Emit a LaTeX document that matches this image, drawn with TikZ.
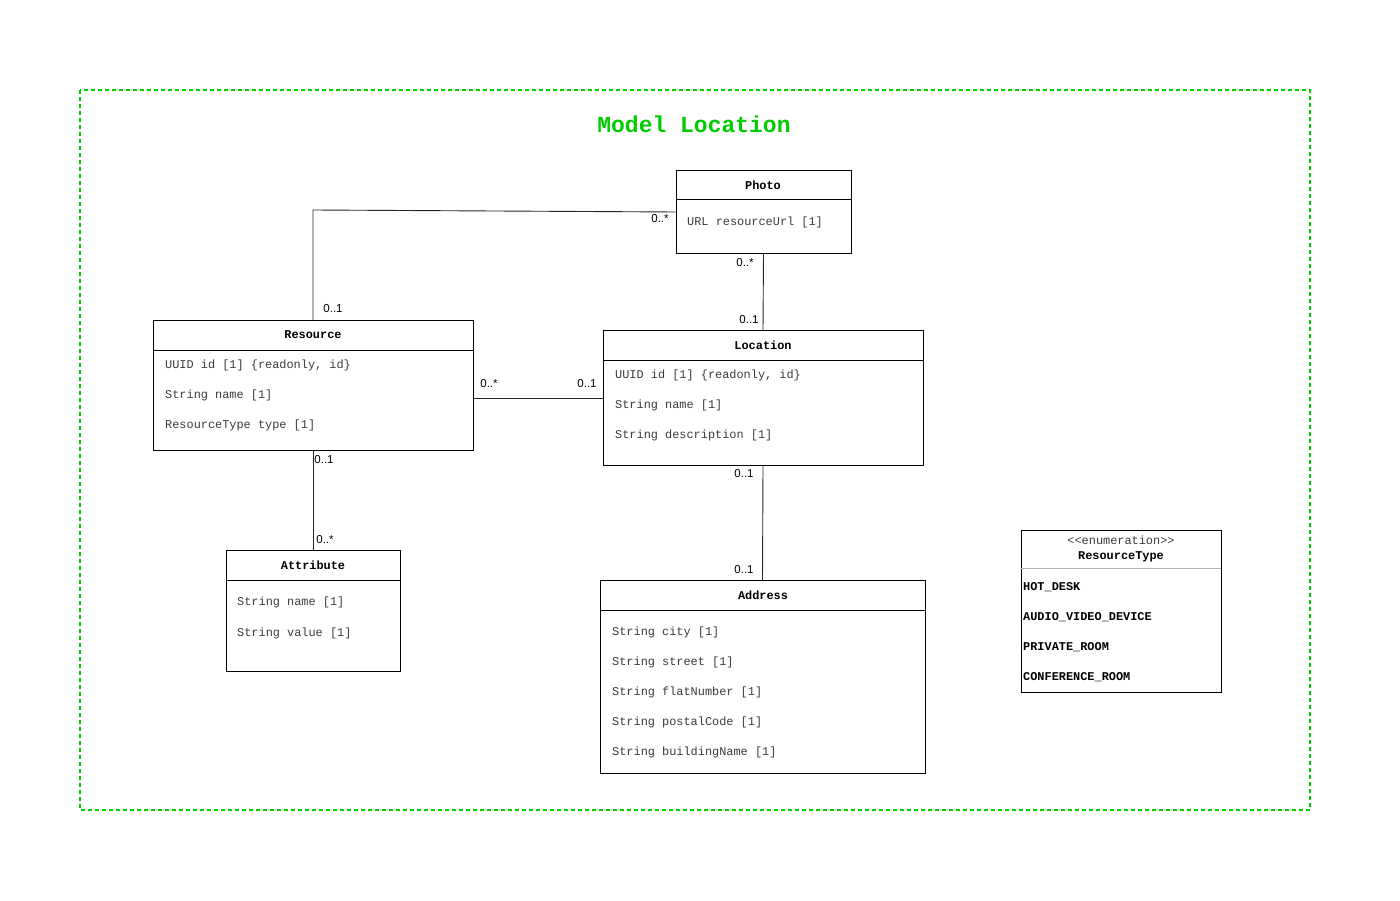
\documentclass[tikz,border=0pt]{standalone}
\usepackage{fontspec}
\setmainfont{Liberation Sans}
\setmonofont{Liberation Mono}
\definecolor{frameg}{RGB}{0,204,0}
\definecolor{attrc}{RGB}{60,60,60}
\begin{document}
\begin{tikzpicture}[x=1pt,y=-1pt,
  box/.style={draw=black,line width=0.9pt,fill=white,anchor=north west,inner sep=0,outer sep=0},
  hdr/.style={font=\ttfamily\bfseries\fontsize{11.9}{14}\selectfont,inner sep=0},
  attr/.style={font=\ttfamily\fontsize{11.9}{14}\selectfont,text=attrc,anchor=west,inner sep=0},
  enumi/.style={font=\ttfamily\bfseries\fontsize{11.9}{14}\selectfont,anchor=west,inner sep=0},
  mult/.style={font=\fontsize{11.5}{13}\selectfont,inner sep=0},
  conn/.style={line width=0.9pt,draw=black!85}]
\useasboundingbox (0,0) rectangle (1400,901);
\fill[white] (0,0) rectangle (1400,901);
% frame
\draw[frameg,line width=1.4pt,dash pattern=on 4pt off 3pt] (80,90) rectangle (1310,810);
\node[font=\ttfamily\bfseries\fontsize{23}{26}\selectfont,text=frameg,inner sep=0] (title) at (694,124) {Model Location};
% connectors (behind boxes)
\coordinate (c1) at (313,210);
% boxes
\node[box,minimum width=175,minimum height=83] (photo) at (676,170) {};
\node[box,minimum width=320,minimum height=130] (res) at (153,320) {};
\node[box,minimum width=320,minimum height=135] (loc) at (603,330) {};
\node[box,minimum width=174,minimum height=121] (att) at (226,550) {};
\node[box,minimum width=325,minimum height=193] (addr) at (600,580) {};
\node[box,minimum width=200,minimum height=162] (enum) at (1021,530) {};
% dividers
\draw[line width=0.9pt] ([yshift=-29]photo.north west) -- ([yshift=-29]photo.north east);
\draw[line width=0.9pt] ([yshift=-30]res.north west) -- ([yshift=-30]res.north east);
\draw[line width=0.9pt] ([yshift=-30]loc.north west) -- ([yshift=-30]loc.north east);
\draw[line width=0.9pt] ([yshift=-30]att.north west) -- ([yshift=-30]att.north east);
\draw[line width=0.9pt] ([yshift=-30]addr.north west) -- ([yshift=-30]addr.north east);
\draw[line width=0.9pt,black!30] ([yshift=-38]enum.north west) -- ([yshift=-38]enum.north east);
% headers
\node[hdr] (photoh) at (763,185) {Photo};
\node[hdr] (resh) at (313,335) {Resource};
\node[hdr] (loch) at (763,345) {Location};
\node[hdr] (atth) at (313,565) {Attribute};
\node[hdr] (addrh) at (763,595) {Address};
\node[font=\ttfamily\fontsize{11.9}{14}\selectfont,text=attrc,inner sep=0] (enums) at (1121,540) {<<enumeration>>};
\node[hdr] (enumh) at (1121,557) {ResourceType};
% attributes
\node[attr] (p1) at (687,222) {URL resourceUrl [1]};
\node[attr] (r1) at (165,365) {UUID id [1] \{readonly, id\}};
\node[attr] (r2) at (165,395) {String name [1]};
\node[attr] (r3) at (165,425) {ResourceType type [1]};
\node[attr] (l1) at (615,375) {UUID id [1] \{readonly, id\}};
\node[attr] (l2) at (615,405) {String name [1]};
\node[attr] (l3) at (615,435) {String description [1]};
\node[attr] (a1) at (237,602) {String name [1]};
\node[attr] (a2) at (237,633) {String value [1]};
\node[attr] (d1) at (612,632) {String city [1]};
\node[attr] (d2) at (612,662) {String street [1]};
\node[attr] (d3) at (612,692) {String flatNumber [1]};
\node[attr] (d4) at (612,722) {String postalCode [1]};
\node[attr] (d5) at (612,752) {String buildingName [1]};
\node[enumi] (e1) at (1023,587) {HOT\_DESK};
\node[enumi] (e2) at (1023,617) {AUDIO\_VIDEO\_DEVICE};
\node[enumi] (e3) at (1023,647) {PRIVATE\_ROOM};
\node[enumi] (e4) at (1023,677) {CONFERENCE\_ROOM};
% connectors
\draw[conn] (res.north) -- (c1) -- ([yshift=-42]photo.north west);
\draw[conn] (photo.south) -- (loc.north);
\draw[conn] ([yshift=-78]res.north east) -- ([yshift=-68]loc.north west);
\draw[conn] (res.south) -- (att.north);
\draw[conn] (loc.south) -- (addr.north);
% multiplicities
\node[mult] (m1) at (660,219) {0..*};
\node[mult] (m2) at (333,309) {0..1};
\node[mult] (m3) at (745,263) {0..*};
\node[mult] (m4) at (749,320) {0..1};
\node[mult] (m5) at (489,384) {0..*};
\node[mult] (m6) at (587,384) {0..1};
\node[mult] (m7) at (324,460) {0..1};
\node[mult] (m8) at (325,540) {0..*};
\node[mult] (m9) at (744,474) {0..1};
\node[mult] (m10) at (744,570) {0..1};
\end{tikzpicture}
\end{document}
